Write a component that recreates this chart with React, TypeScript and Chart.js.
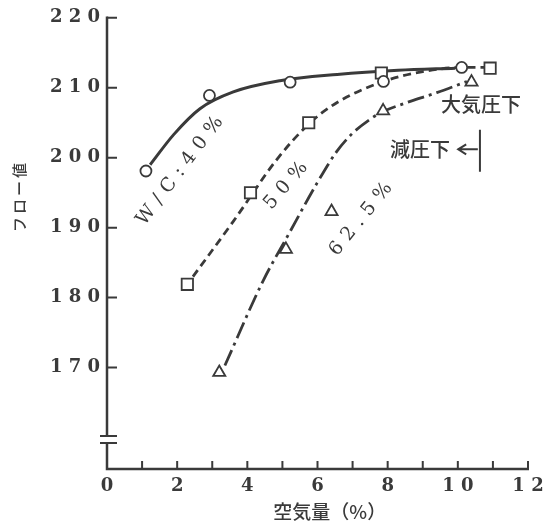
import React, { useEffect, useRef } from "react";
import { Chart, registerables } from "chart.js";
Chart.register(...registerables);

// ---- axis ticks ----
const xTickValues = [0, 2, 4, 6, 8, 10, 12];
const yTickValues = [170, 180, 190, 200, 210, 220];

// ---- measured points (air content %, flow value) ----
const wc40X = [1.11, 2.92, 5.22, 7.88, 10.11];
const wc40Y = [198.1, 208.9, 210.8, 210.9, 212.9];
const wc50X = [2.29, 4.09, 5.75, 7.82, 10.92];
const wc50Y = [181.9, 195.0, 205.0, 212.1, 212.8];
const wc625X = [3.2, 5.1, 6.4, 7.87, 10.39];
const wc625Y = [169.3, 186.9, 192.3, 206.7, 210.8];

// ---- fitted curves ----
const curve40X = [1.23, 1.9, 2.65, 3.6, 4.93, 6.56, 8.3, 9.92];
const curve40Y = [199.0, 203.3, 207.0, 209.4, 211.0, 211.9, 212.5, 212.8];
const curve50X = [2.45, 3.6, 4.85, 5.77, 6.56, 7.88, 9.0, 10.11, 10.92];
const curve50Y = [183.0, 190.9, 199.8, 204.9, 207.9, 210.9, 212.3, 212.9, 212.9];
const curve625X = [3.36, 4.45, 5.17, 5.99, 6.55, 7.0, 7.5, 7.87, 8.44, 9.4, 10.26];
const curve625Y = [170.3, 182.4, 189.0, 196.4, 200.9, 203.5, 205.5, 206.6, 207.7, 209.3, 210.9];

// ---- texts ----
const seriesLabels = ["W/C:40%", "50%", "62.5%"];
const noteLabels = ["大気圧下", "減圧下"];
const xTitle = "空気量（%）";
const yTitle = "フロー値";

const INK = "#3a3a3a";

const pts = (xs: number[], ys: number[]) => xs.map((x, i) => ({ x, y: ys[i] }));

function spacedText(
  ctx: CanvasRenderingContext2D,
  text: string,
  cx: number,
  cy: number,
  angleDeg: number,
  ls: number
) {
  ctx.save();
  ctx.translate(cx, cy);
  ctx.rotate((angleDeg * Math.PI) / 180);
  ctx.textBaseline = "middle";
  ctx.textAlign = "left";
  const chars = Array.from(text);
  const ws = chars.map((c) => ctx.measureText(c).width);
  const total = ws.reduce((a, b) => a + b, 0) + ls * (chars.length - 1);
  let x = -total / 2;
  chars.forEach((c, i) => {
    ctx.fillText(c, x, 0);
    x += ws[i] + ls;
  });
  ctx.restore();
}

const decorPlugin = {
  id: "decor",
  beforeDraw(chart: any) {
    const ctx = chart.ctx;
    ctx.save();
    ctx.fillStyle = "#ffffff";
    ctx.fillRect(0, 0, chart.width, chart.height);
    ctx.restore();
  },
  beforeDatasetsDraw(chart: any) {
    const ctx: CanvasRenderingContext2D = chart.ctx;
    const xs = chart.scales.x;
    const ys = chart.scales.y;
    const x0 = xs.getPixelForValue(0);
    const x12 = xs.getPixelForValue(12);
    const yb = ys.getPixelForValue(ys.min);
    const yt = ys.getPixelForValue(220);
    const brTop = ys.getPixelForValue(160.2);
    const brBot = ys.getPixelForValue(159.2);
    ctx.save();
    ctx.strokeStyle = INK;
    ctx.lineWidth = 2.5;
    ctx.lineCap = "butt";
    ctx.beginPath();
    ctx.moveTo(x0 - 1.25, yb);
    ctx.lineTo(x12 + 1, yb);
    ctx.moveTo(x0, yt - 1.25);
    ctx.lineTo(x0, brTop);
    ctx.moveTo(x0, brBot);
    ctx.lineTo(x0, yb);
    ctx.stroke();
    ctx.lineWidth = 2;
    ctx.beginPath();
    ctx.moveTo(x0 - 7, brTop);
    ctx.lineTo(x0 + 10, brTop);
    ctx.moveTo(x0 - 7, brBot);
    ctx.lineTo(x0 + 10, brBot);
    yTickValues.forEach((v) => {
      const y = ys.getPixelForValue(v);
      ctx.moveTo(x0, y);
      ctx.lineTo(x0 + 10, y);
    });
    for (let v = 1; v <= 12; v++) {
      const x = xs.getPixelForValue(v);
      ctx.moveTo(x, yb);
      ctx.lineTo(x, yb - 8);
    }
    ctx.stroke();
    ctx.restore();
  },
  afterDatasetsDraw(chart: any) {
    const ctx: CanvasRenderingContext2D = chart.ctx;
    const xs = chart.scales.x;
    const ys = chart.scales.y;
    const px = (v: number) => xs.getPixelForValue(v);
    const py = (v: number) => ys.getPixelForValue(v);
    ctx.save();
    ctx.fillStyle = INK;
    ctx.strokeStyle = INK;

    ctx.font = "19px 'DejaVu Serif'";
    spacedText(ctx, seriesLabels[0], px(2.08), py(198.1), -53, 7);
    spacedText(ctx, seriesLabels[1], px(5.1), py(196.0), -49, 7);
    spacedText(ctx, seriesLabels[2], px(7.24), py(191.2), -51, 7);

    ctx.font = "500 20px 'Noto Sans CJK JP'";
    spacedText(ctx, noteLabels[0], px(10.66), py(207.6), 0, 0);
    spacedText(ctx, noteLabels[1], px(8.92), py(201.2), 0, 0);

    ctx.lineWidth = 2;
    ctx.beginPath();
    const ay = py(201.2);
    const tipX = px(10.01);
    ctx.moveTo(px(10.57), ay);
    ctx.lineTo(tipX, ay);
    ctx.moveTo(tipX + 8, ay - 5);
    ctx.lineTo(tipX, ay);
    ctx.lineTo(tipX + 8, ay + 5);
    ctx.moveTo(px(10.63), py(204.0));
    ctx.lineTo(px(10.63), py(198.0));
    ctx.stroke();

    ctx.font = "500 19px 'Noto Sans CJK JP'";
    spacedText(ctx, xTitle, px(6.35), chart.chartArea.bottom + 43, 0, 0);
    ctx.font = "500 15px 'Noto Sans CJK JP'";
    spacedText(ctx, yTitle, chart.chartArea.left - 88, py(194.3), -90, 3);
    ctx.restore();
  },
};

export default function App() {
  const ref = useRef<HTMLCanvasElement | null>(null);
  useEffect(() => {
    if (!ref.current) return;
    const markerBase = {
      showLine: false,
      pointBackgroundColor: "#ffffff",
      pointBorderColor: INK,
      pointBorderWidth: 1.8,
      order: 0,
    };
    const curveBase = {
      showLine: true,
      pointRadius: 0,
      borderColor: INK,
      borderWidth: 2.8,
      cubicInterpolationMode: "monotone" as const,
      fill: false,
      order: 1,
    };
    const chart = new Chart(ref.current, {
      type: "scatter",
      data: {
        datasets: [
          { ...markerBase, label: "40% pts", data: pts(wc40X, wc40Y), pointStyle: "circle", pointRadius: 5.5 },
          { ...markerBase, label: "50% pts", data: pts(wc50X, wc50Y), pointStyle: "rect", pointRadius: 8 },
          { ...markerBase, label: "62.5% pts", data: pts(wc625X, wc625Y), pointStyle: "triangle", pointRadius: 7 },
          { ...curveBase, label: "40%", data: pts(curve40X, curve40Y), borderWidth: 3 },
          { ...curveBase, label: "50%", data: pts(curve50X, curve50Y), borderDash: [8, 5] },
          { ...curveBase, label: "62.5%", data: pts(curve625X, curve625Y), borderDash: [17, 5, 3, 5] },
        ],
      },
      options: {
        responsive: false,
        animation: false,
        devicePixelRatio: 1,
        layout: { padding: { left: 0, top: 15, right: 27, bottom: 0 } },
        plugins: { legend: { display: false }, tooltip: { enabled: false } },
        scales: {
          x: {
            type: "linear",
            min: 0,
            max: 12,
            grid: { display: false, drawTicks: false },
            border: { display: false },
            afterBuildTicks: (s: any) => {
              s.ticks = xTickValues.map((v) => ({ value: v }));
            },
            afterFit: (s: any) => {
              s.height = 57;
            },
            ticks: {
              color: INK,
              padding: 7,
              maxRotation: 0,
              font: { family: "'DejaVu Serif'", size: 18, weight: "bold" },
              callback: (v: any) => String(v).split("").join(" "),
            },
          },
          y: {
            type: "linear",
            min: 155.5,
            max: 220,
            grid: { display: false, drawTicks: false },
            border: { display: false },
            afterBuildTicks: (s: any) => {
              s.ticks = yTickValues.map((v) => ({ value: v }));
            },
            afterFit: (s: any) => {
              s.width = 107;
            },
            ticks: {
              color: INK,
              padding: 7,
              font: { family: "'DejaVu Serif'", size: 18, weight: "bold" },
              callback: (v: any) => String(v).split("").join(" "),
            },
          },
        },
      },
      plugins: [decorPlugin],
    });
    return () => chart.destroy();
  }, []);
  return (
    <div style={{ position: "absolute", left: 0, top: 0, width: 555, height: 526, background: "#fff" }}>
      <canvas ref={ref} width={555} height={526} style={{ display: "block" }} />
    </div>
  );
}
